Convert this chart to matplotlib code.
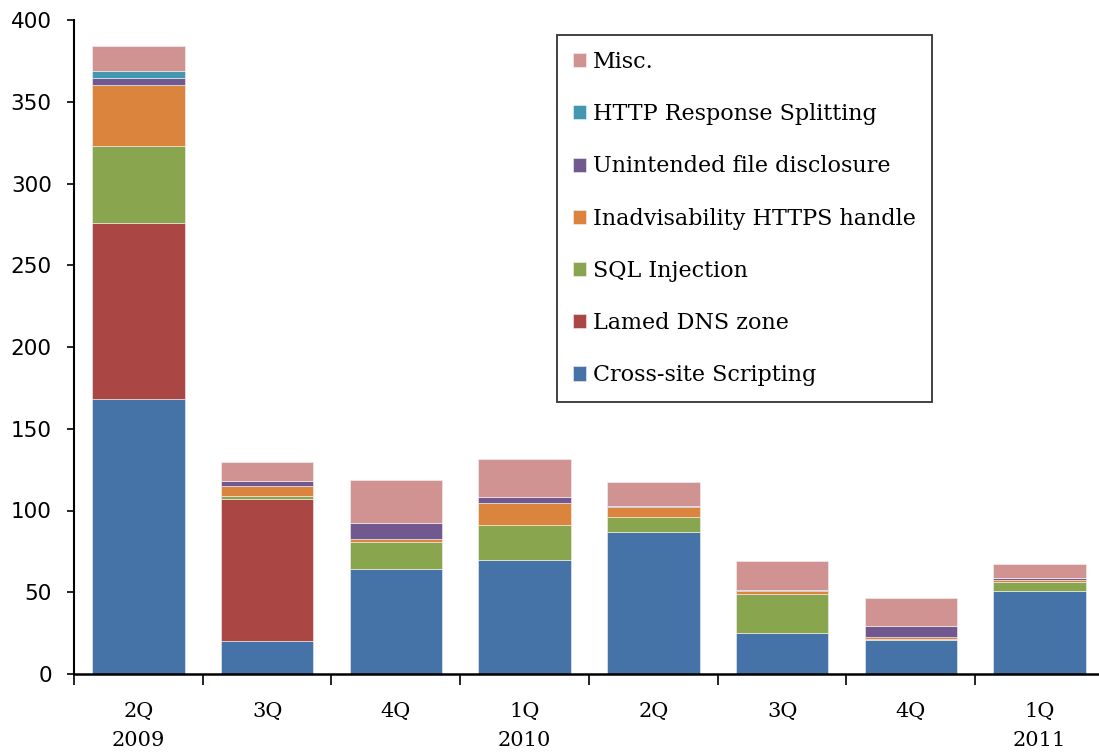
import numpy as np
import matplotlib
matplotlib.use("Agg")
import matplotlib.pyplot as plt

plt.rcParams['font.family'] = ['DejaVu Serif']

quarters = ["2Q\n2009", "3Q", "4Q", "1Q\n2010", "2Q", "3Q", "4Q", "1Q\n2011"]

# counts per category, stacked bottom to top
xss = [168, 20, 64.5, 70, 87, 25, 20.5, 51]
dns = [108, 87, 0, 0, 0, 0, 0, 0]
sqli = [47, 2, 16, 21, 9, 24, 1, 5.5]
https = [37, 6, 2, 13.5, 6, 2, 1, 1]
disclosure = [4.5, 3, 10, 3.5, 1, 0.3, 7, 1]
splitting = [4.5, 0, 0, 0, 0, 0, 0, 0]
misc = [15, 11.5, 26, 23.5, 14.5, 18, 17, 9]

series = [
    ("Cross-site Scripting", xss, "#4572A7"),
    ("Lamed DNS zone", dns, "#AA4643"),
    ("SQL Injection", sqli, "#89A54E"),
    ("Inadvisability HTTPS handle", https, "#DB843D"),
    ("Unintended file disclosure", disclosure, "#71588F"),
    ("HTTP Response Splitting", splitting, "#4198AF"),
    ("Misc.", misc, "#D09392"),
]

fig = plt.figure(figsize=(10.99, 7.54), dpi=100)
ax = fig.add_axes([74 / 1099, 80 / 754, 1030 / 1099, 654 / 754])

x = np.arange(len(quarters))
bottom = np.zeros(len(quarters))
handles = []
for name, vals, col in series:
    vals = np.array(vals, dtype=float)
    b = ax.bar(x, vals, width=0.72, bottom=bottom, color=col, label=name,
               edgecolor="#f4f4f4", linewidth=0.4)
    handles.append(b)
    bottom += vals

ax.set_xlim(-0.5, len(quarters) - 0.5)
ax.set_ylim(0, 400)
ax.set_yticks(np.arange(0, 401, 50))
ax.tick_params(axis="y", direction="out", length=5, width=1.2, pad=11)
for lab in ax.get_yticklabels():
    lab.set_fontfamily("DejaVu Sans")
    lab.set_fontsize(15.5)

# major ticks on the boundaries, labels on minor ticks at the centres
ax.set_xticks(np.arange(-0.5, len(quarters), 1.0))
ax.set_xticklabels([])
ax.tick_params(axis="x", which="major", direction="out", length=8, width=1.2)
ax.set_xticks(x, minor=True)
ax.set_xticklabels(quarters, minor=True, fontsize=15, linespacing=1.7)
ax.tick_params(axis="x", which="minor", length=0, pad=20)

for s in ["top", "right"]:
    ax.spines[s].set_visible(False)
ax.spines["left"].set_linewidth(1.5)
ax.spines["bottom"].set_linewidth(1.8)

leg = fig.legend(handles[::-1], [s[0] for s in series][::-1],
                 loc="upper left", bbox_to_anchor=(557 / 1099, 1 - 35 / 754),
                 fontsize=16, frameon=True, fancybox=False, edgecolor="black",
                 labelspacing=1.36, handlelength=0.6, handleheight=0.6,
                 handletextpad=0.3, borderpad=0.72, borderaxespad=0)
leg.get_frame().set_linewidth(1.3)

fig.savefig("out.png", dpi=100)
